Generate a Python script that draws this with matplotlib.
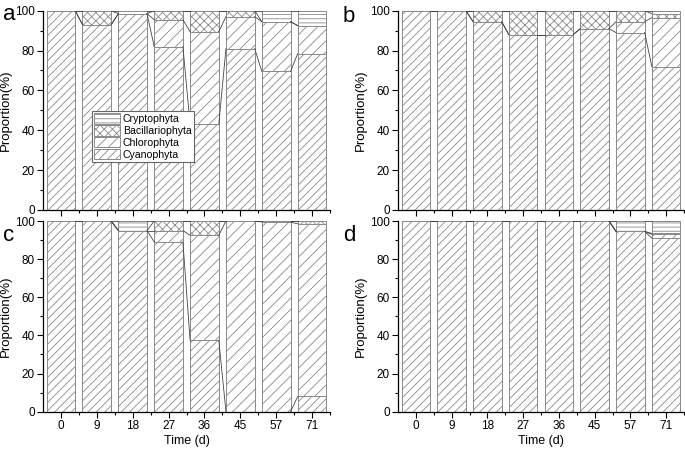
import matplotlib
matplotlib.use("Agg")
import matplotlib.pyplot as plt
import numpy as np
from matplotlib.patches import Patch

plt.rcParams['font.family'] = ['Liberation Sans', 'DejaVu Sans']
plt.rcParams['hatch.linewidth'] = 0.6
plt.rcParams['hatch.color'] = '#7a7a7a'

days = ['0', '9', '18', '27', '36', '45', '57', '71']
groups = ['Cyanophyta', 'Chlorophyta', 'Bacillariophyta', 'Cryptophyta']

cyano_a = [100, 93, 98.5, 82, 43, 81, 69.5, 78.5]
chloro_a = [0, 0, 0, 13.5, 46.5, 16, 25, 14]
bac_a = [0, 7, 0, 4.5, 10.5, 3, 0, 0]
crypto_a = [0, 0, 1.5, 0, 0, 0, 5.5, 7.5]

cyano_b = [100, 100, 94.5, 88, 88, 91, 89, 72]
chloro_b = [0, 0, 0, 0, 0, 0, 5.5, 24.5]
bac_b = [0, 0, 5.5, 12, 12, 9, 5.5, 2]
crypto_b = [0, 0, 0, 0, 0, 0, 0, 1.5]

cyano_c = [100, 100, 95, 89, 37.5, 0, 0, 8]
chloro_c = [0, 0, 0, 6, 55, 100, 99.5, 90.5]
bac_c = [0, 0, 0, 5, 7.5, 0, 0.5, 1.5]
crypto_c = [0, 0, 5, 0, 0, 0, 0, 0]

cyano_d = [100, 100, 100, 100, 100, 100, 94.5, 91]
chloro_d = [0, 0, 0, 0, 0, 0, 0, 2]
bac_d = [0, 0, 0, 0, 0, 0, 0, 0.5]
crypto_d = [0, 0, 0, 0, 0, 0, 5.5, 6.5]

panels = {
    'a': [cyano_a, chloro_a, bac_a, crypto_a],
    'b': [cyano_b, chloro_b, bac_b, crypto_b],
    'c': [cyano_c, chloro_c, bac_c, crypto_c],
    'd': [cyano_d, chloro_d, bac_d, crypto_d],
}

hatches = ['////', '///', 'xxxx', '----']
edge = '#8a8a8a'
width = 0.8

fig = plt.figure(figsize=(6.85, 4.53), dpi=100)
W, H = 685.0, 453.0
rects = {
    'a': (43, 10.7, 330, 210),
    'b': (398, 10.7, 684, 210),
    'c': (43, 221, 330, 411.7),
    'd': (398, 221, 684, 411.7),
}
letter_pos = {'a': (3, 20), 'b': (343, 22), 'c': (3, 241), 'd': (343, 241)}

x = np.arange(len(days))
for key, series in panels.items():
    l, t, r, b = rects[key]
    ax = fig.add_axes([l / W, 1 - b / H, (r - l) / W, (b - t) / H])
    bottom = np.zeros(len(days))
    tops = []
    for vals, h in zip(series, hatches):
        vals = np.array(vals, dtype=float)
        ax.bar(x, vals, width, bottom=bottom, facecolor='white',
               edgecolor=edge, hatch=h, linewidth=0.7, zorder=2)
        bottom = bottom + vals
        tops.append(bottom.copy())
    for cum in tops:
        for i in range(len(days) - 1):
            ax.plot([x[i] + width / 2, x[i + 1] - width / 2], [cum[i], cum[i + 1]],
                    color='#444444', lw=0.6, zorder=3)
    ax.set_xlim(-0.5, 7.5)
    ax.set_ylim(0, 100)
    ax.set_yticks(np.arange(0, 101, 20))
    ax.set_yticks(np.arange(0, 101, 10), minor=True)
    ax.set_xticks(x)
    ax.set_xticks(x + 0.5, minor=True)
    ax.tick_params(axis='both', which='major', direction='out', length=4, width=0.8, labelsize=8.5, pad=2)
    ax.tick_params(axis='both', which='minor', direction='out', length=2, width=0.8)
    for s in ['top', 'right']:
        ax.spines[s].set_visible(False)
    for s in ['left', 'bottom']:
        ax.spines[s].set_linewidth(0.9)
    ax.set_ylabel('Proportion(%)', fontsize=9.5, labelpad=2)
    if key in ('c', 'd'):
        ax.set_xticklabels(days)
        ax.set_xlabel('Time (d)', fontsize=9, labelpad=2)
    else:
        ax.set_xticklabels([])
    lx, ly = letter_pos[key]
    fig.text(lx / W, 1 - ly / H, key, fontsize=16, ha='left', va='baseline')
    if key == 'a':
        handles = [Patch(facecolor='white', edgecolor=edge, hatch=h, linewidth=0.7)
                   for h in hatches]
        leg = ax.legend(handles[::-1], groups[::-1], loc='upper left',
                        bbox_to_anchor=(0.171, 0.495), fontsize=7.6,
                        handlelength=2.4, handleheight=1.1, labelspacing=0.12,
                        handletextpad=0.3, borderpad=0.2, borderaxespad=0,
                        fancybox=False, framealpha=1, edgecolor='#666666')
        leg.get_frame().set_linewidth(0.8)
        leg.set_zorder(5)

fig.savefig('out.png', dpi=100)
